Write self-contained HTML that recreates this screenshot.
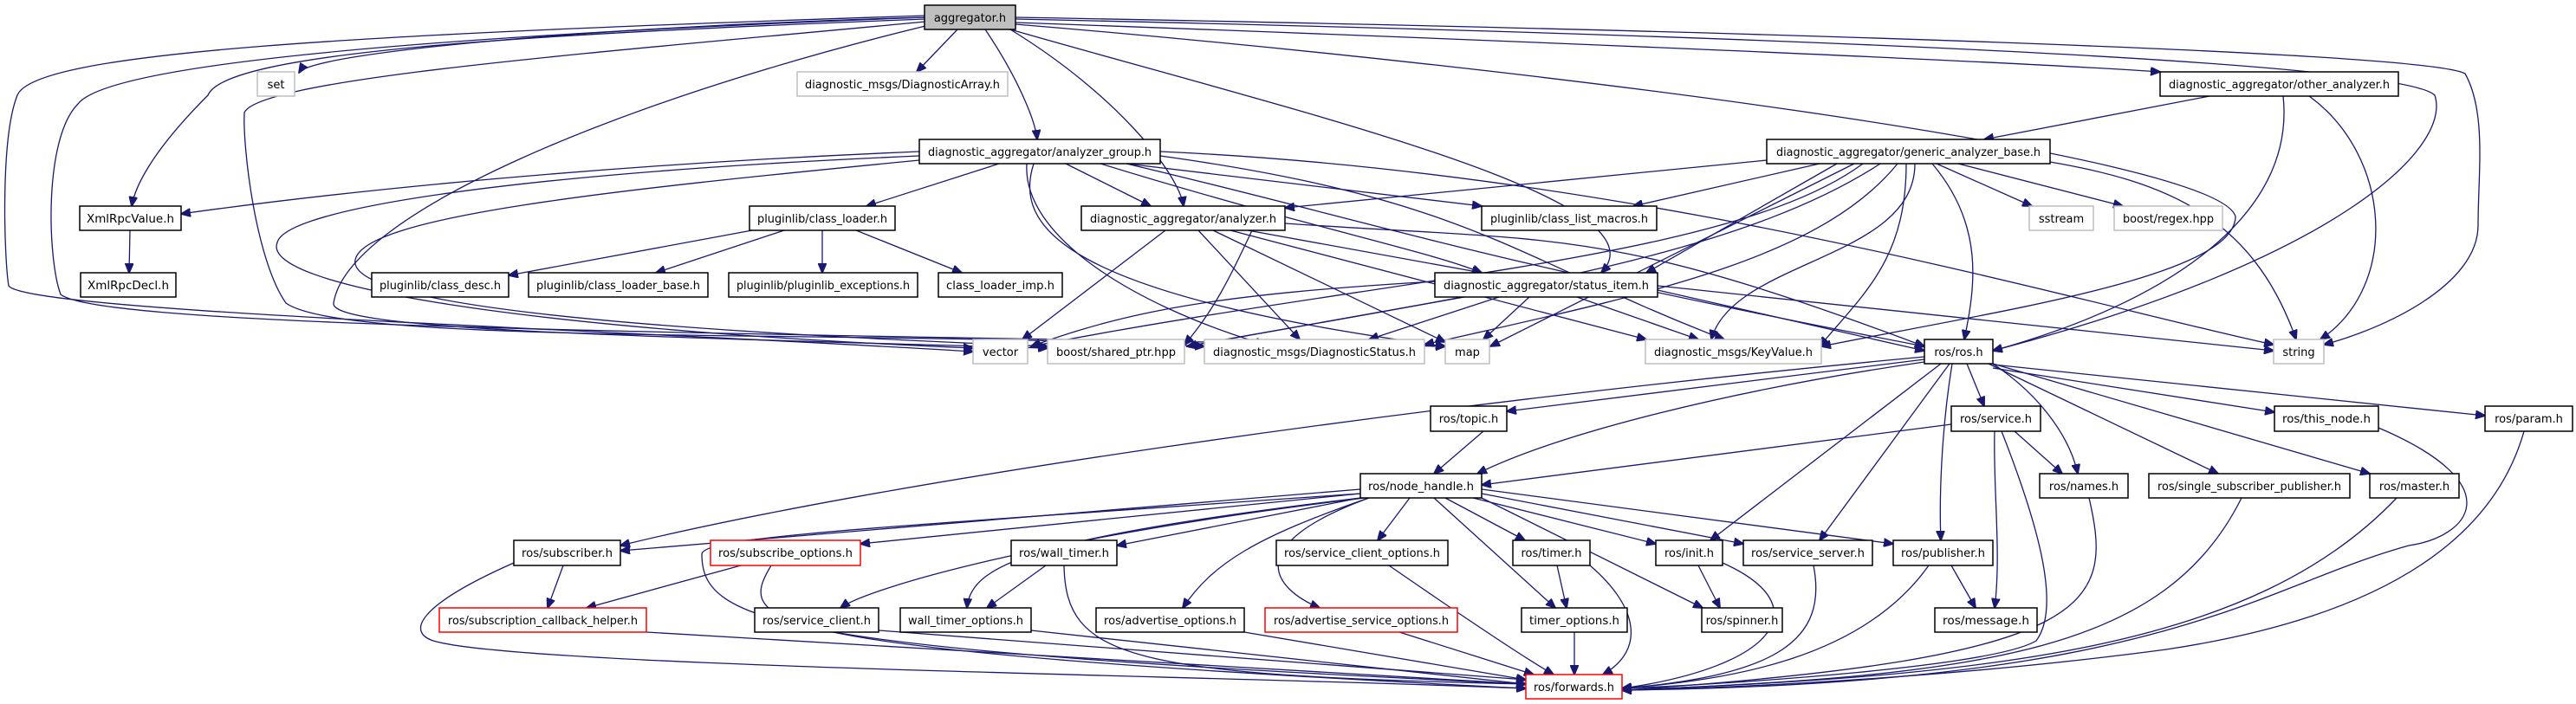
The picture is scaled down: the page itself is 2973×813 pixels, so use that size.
<!DOCTYPE html>
<html><head><meta charset="utf-8"><style>
html,body{margin:0;padding:0;background:#fff;}
svg{display:block}
text{font-family:"DejaVu Sans","Liberation Sans",sans-serif;font-size:13px;fill:#000}
.e{fill:none;stroke:#191970;stroke-width:1.3}
.n{fill:#fff;stroke:#000;stroke-width:1.5}
.g{fill:#fff;stroke:#bfbfbf;stroke-width:1.5}
.r{fill:#fff;stroke:#ff0000;stroke-width:1.5}
</style></head><body>
<svg width="2973" height="813" viewBox="0 0 2973 813" xmlns="http://www.w3.org/2000/svg">
<defs><marker id="a" markerWidth="12" markerHeight="10" refX="11" refY="5" orient="auto" markerUnits="userSpaceOnUse"><path d="M0,0 L12,5 L0,10 z" fill="#191970" stroke="#191970"/></marker></defs>
<g class="e" marker-end="url(#a)">
<path d="M1068,20 C700,30 360,60 345,84"/>
<path d="M1105,34 L1058,83"/>
<path d="M1137,34 C1175,90 1195,140 1197,161"/>
<path d="M1166,34 C1290,110 1360,200 1366,238"/>
<path d="M1068,22 C600,40 260,60 240,110 C170,180 155,220 152,238"/>
<path d="M1068,18 C400,40 40,60 20,110 C0,160 5,300 10,330 C30,360 700,380 1123,406"/>
<path d="M1068,20 C400,45 120,80 90,120 C50,160 55,300 70,340 C120,380 900,385 1668,400"/>
<path d="M1068,25 C700,60 300,90 282,130 C280,170 295,300 330,350 C400,400 1000,380 1390,400"/>
<path d="M1068,30 C700,120 400,250 385,350 C380,380 700,388 1209,402"/>
<path d="M1166,34 C1500,130 1930,230 1848,315"/>
<path d="M1172,26 C1700,45 2300,70 2493,83"/>
<path d="M1172,22 C2000,40 2770,70 2810,110 C2830,170 2700,300 2300,405"/>
<path d="M1172,20 C2000,35 2800,60 2845,85 C2870,130 2860,200 2860,260 C2860,330 2750,380 2682,398"/>
<path d="M1172,28 C1800,80 2560,180 2580,250 C2580,320 2300,360 2102,400"/>
<path d="M1061,175 C700,190 400,220 209,247"/>
<path d="M1153,189 L1000,238"/>
<path d="M1230,189 L1328,238"/>
<path d="M1300,189 L1710,238"/>
<path d="M1270,189 C1500,260 1650,290 1710,315"/>
<path d="M1061,180 C600,200 330,240 320,280 C300,330 600,380 1123,402"/>
<path d="M1061,185 C700,220 420,250 410,300 C400,350 700,380 1209,400"/>
<path d="M1193,189 C1170,260 1220,340 1668,400"/>
<path d="M1185,189 C1180,270 1300,350 1460,398"/>
<path d="M1300,189 C1600,260 1700,300 2221,400"/>
<path d="M1339,180 C1700,230 1750,300 1990,392"/>
<path d="M1339,175 C1900,200 2400,350 2624,398"/>
<path d="M1345,266 L1180,392"/>
<path d="M1445,266 C1420,320 1400,360 1367,398"/>
<path d="M1383,266 L1500,392"/>
<path d="M1400,266 L1668,395"/>
<path d="M1440,266 L1710,315"/>
<path d="M1420,266 L1900,392"/>
<path d="M1483,258 C1800,280 1850,260 2221,400"/>
<path d="M1656,325 C1400,340 1300,360 1190,400"/>
<path d="M1690,343 L1370,400"/>
<path d="M1730,343 L1580,392"/>
<path d="M1765,343 L1712,392"/>
<path d="M1820,343 L1960,392"/>
<path d="M1913,335 L2221,405"/>
<path d="M1913,330 L2624,405"/>
<path d="M2039,185 L1483,240"/>
<path d="M2100,189 L1885,238"/>
<path d="M2120,189 L1900,315"/>
<path d="M2150,189 C2000,300 1600,320 1190,400"/>
<path d="M2170,189 C2000,300 1700,340 1370,400"/>
<path d="M2190,189 C2100,300 1900,340 1644,398"/>
<path d="M2140,189 L1720,400"/>
<path d="M2200,189 C2200,300 2150,340 2100,400"/>
<path d="M2210,189 C2210,300 2000,300 1975,392"/>
<path d="M2230,189 C2290,260 2280,330 2267,392"/>
<path d="M2235,189 L2345,238"/>
<path d="M2260,189 L2450,238"/>
<path d="M2366,187 C2500,210 2600,250 2650,392"/>
<path d="M2550,111 L2290,161"/>
<path d="M2635,111 C2650,250 2500,350 2300,405"/>
<path d="M2665,111 C2760,180 2770,330 2678,392"/>
<path d="M2221,415 L1739,475"/>
<path d="M2221,418 C2000,450 1800,500 1705,547"/>
<path d="M2221,412 C1600,470 1000,560 716,630"/>
<path d="M2270,420 L2290,469"/>
<path d="M2300,425 L2625,476"/>
<path d="M2300,421 L2868,480"/>
<path d="M2300,420 C2360,460 2390,510 2398,547"/>
<path d="M2295,420 L2560,547"/>
<path d="M2300,420 L2735,547"/>
<path d="M2240,420 L1974,624"/>
<path d="M2250,420 L2100,624"/>
<path d="M2253,420 C2240,500 2238,580 2240,624"/>
<path d="M2252,490 L1710,560"/>
<path d="M2325,498 L2380,547"/>
<path d="M2302,498 C2300,560 2310,640 2302,702"/>
<path d="M2310,498 C2350,600 2380,700 2350,740 C2300,770 2000,790 1872,795"/>
<path d="M1712,498 L1655,547"/>
<path d="M1570,565 L716,636"/>
<path d="M1570,570 L993,628"/>
<path d="M1575,575 C1200,620 1000,680 970,702"/>
<path d="M1570,575 L1289,630"/>
<path d="M1570,575 C1200,620 1120,650 1116,702"/>
<path d="M1580,575 C1450,620 1400,650 1365,702"/>
<path d="M1580,575 C1430,630 1470,680 1523,702"/>
<path d="M1627,575 L1590,624"/>
<path d="M1655,575 L1795,702"/>
<path d="M1668,575 L1760,624"/>
<path d="M1700,575 L1911,628"/>
<path d="M1710,575 L1965,702"/>
<path d="M1710,570 L2012,628"/>
<path d="M1710,565 L2185,628"/>
<path d="M1570,570 C1000,610 810,620 810,640 C810,720 900,750 1761,790"/>
<path d="M650,653 L632,702"/>
<path d="M593,650 C480,700 470,730 500,740 C600,770 1400,780 1761,795"/>
<path d="M855,653 L677,702"/>
<path d="M890,653 C850,720 860,750 1761,795"/>
<path d="M746,730 L1761,790"/>
<path d="M1014,728 L1761,785"/>
<path d="M1207,653 L1139,702"/>
<path d="M1228,653 C1230,760 1300,780 1761,790"/>
<path d="M1190,728 L1761,790"/>
<path d="M1436,730 L1761,785"/>
<path d="M1615,730 L1770,779"/>
<path d="M1603,653 C1700,720 1760,760 1793,779"/>
<path d="M1797,653 L1808,702"/>
<path d="M1835,653 C1890,700 1900,750 1850,779"/>
<path d="M1817,730 L1817,779"/>
<path d="M1960,653 L1985,702"/>
<path d="M1988,650 C2100,700 2050,770 1872,795"/>
<path d="M2093,653 C2110,740 2050,780 1872,795"/>
<path d="M2252,653 L2280,702"/>
<path d="M2226,653 C2150,760 2000,785 1872,795"/>
<path d="M2411,575 C2440,700 2420,760 1872,797"/>
<path d="M2587,575 C2500,750 2300,780 1872,797"/>
<path d="M2766,575 C2600,750 2300,780 1872,797"/>
<path d="M2745,494 C2900,560 2850,620 2780,630 C2600,680 2500,790 1872,797"/>
<path d="M2913,498 C2870,650 2700,720 2500,750 C2200,790 1900,797 1872,797"/>
<path d="M150,266 L149,315"/>
<path d="M868,266 L587,318"/>
<path d="M905,266 L757,315"/>
<path d="M949,266 L949,315"/>
<path d="M988,266 L1110,315"/>
</g>
<g>
<rect x="1067" y="6" width="105" height="28" fill="#bfbfbf" stroke="#000" stroke-width="1.5"/><text x="1119.5" y="25" text-anchor="middle">aggregator.h</text>
<rect class="g" x="297" y="83" width="43" height="28"/><text x="318.5" y="102" text-anchor="middle">set</text>
<rect class="g" x="920" y="83" width="243" height="28"/><text x="1041.5" y="102" text-anchor="middle" textLength="225" lengthAdjust="spacingAndGlyphs">diagnostic_msgs/DiagnosticArray.h</text>
<rect class="n" x="2493" y="83" width="275" height="28"/><text x="2630.5" y="102" text-anchor="middle" textLength="255" lengthAdjust="spacingAndGlyphs">diagnostic_aggregator/other_analyzer.h</text>
<rect class="n" x="1061" y="161" width="278" height="28"/><text x="1200" y="180" text-anchor="middle" textLength="258" lengthAdjust="spacingAndGlyphs">diagnostic_aggregator/analyzer_group.h</text>
<rect class="n" x="2039" y="161" width="327" height="28"/><text x="2202.5" y="180" text-anchor="middle" textLength="305" lengthAdjust="spacingAndGlyphs">diagnostic_aggregator/generic_analyzer_base.h</text>
<rect class="n" x="92" y="238" width="117" height="28"/><text x="150.5" y="257" text-anchor="middle" textLength="101" lengthAdjust="spacingAndGlyphs">XmlRpcValue.h</text>
<rect class="n" x="865" y="238" width="168" height="28"/><text x="949" y="257" text-anchor="middle" textLength="150" lengthAdjust="spacingAndGlyphs">pluginlib/class_loader.h</text>
<rect class="n" x="1248" y="238" width="235" height="28"/><text x="1365.5" y="257" text-anchor="middle" textLength="215" lengthAdjust="spacingAndGlyphs">diagnostic_aggregator/analyzer.h</text>
<rect class="n" x="1710" y="238" width="202" height="28"/><text x="1811" y="257" text-anchor="middle" textLength="182" lengthAdjust="spacingAndGlyphs">pluginlib/class_list_macros.h</text>
<rect class="g" x="2342" y="238" width="74" height="28"/><text x="2379" y="257" text-anchor="middle">sstream</text>
<rect class="g" x="2440" y="238" width="125" height="28"/><text x="2502.5" y="257" text-anchor="middle" textLength="105" lengthAdjust="spacingAndGlyphs">boost/regex.hpp</text>
<rect class="n" x="93" y="315" width="110" height="28"/><text x="148" y="334" text-anchor="middle" textLength="94" lengthAdjust="spacingAndGlyphs">XmlRpcDecl.h</text>
<rect class="n" x="429" y="315" width="158" height="28"/><text x="508" y="334" text-anchor="middle" textLength="140" lengthAdjust="spacingAndGlyphs">pluginlib/class_desc.h</text>
<rect class="n" x="610" y="315" width="207" height="28"/><text x="713.5" y="334" text-anchor="middle" textLength="189" lengthAdjust="spacingAndGlyphs">pluginlib/class_loader_base.h</text>
<rect class="n" x="841" y="315" width="218" height="28"/><text x="950" y="334" text-anchor="middle" textLength="200" lengthAdjust="spacingAndGlyphs">pluginlib/pluginlib_exceptions.h</text>
<rect class="n" x="1083" y="315" width="143" height="28"/><text x="1154.5" y="334" text-anchor="middle" textLength="125" lengthAdjust="spacingAndGlyphs">class_loader_imp.h</text>
<rect class="n" x="1656" y="315" width="257" height="28"/><text x="1784.5" y="334" text-anchor="middle" textLength="237" lengthAdjust="spacingAndGlyphs">diagnostic_aggregator/status_item.h</text>
<rect class="g" x="1123" y="392" width="63" height="28"/><text x="1154.5" y="411" text-anchor="middle">vector</text>
<rect class="g" x="1209" y="392" width="158" height="28"/><text x="1288" y="411" text-anchor="middle" textLength="138" lengthAdjust="spacingAndGlyphs">boost/shared_ptr.hpp</text>
<rect class="g" x="1390" y="392" width="254" height="28"/><text x="1517" y="411" text-anchor="middle" textLength="234" lengthAdjust="spacingAndGlyphs">diagnostic_msgs/DiagnosticStatus.h</text>
<rect class="g" x="1668" y="392" width="51" height="28"/><text x="1693.5" y="411" text-anchor="middle">map</text>
<rect class="g" x="1899" y="392" width="203" height="28"/><text x="2000.5" y="411" text-anchor="middle" textLength="183" lengthAdjust="spacingAndGlyphs">diagnostic_msgs/KeyValue.h</text>
<rect class="n" x="2221" y="392" width="79" height="28"/><text x="2260.5" y="411" text-anchor="middle">ros/ros.h</text>
<rect class="g" x="2624" y="392" width="58" height="28"/><text x="2653" y="411" text-anchor="middle">string</text>
<rect class="n" x="1651" y="469" width="88" height="29"/><text x="1695" y="488" text-anchor="middle">ros/topic.h</text>
<rect class="n" x="2252" y="469" width="103" height="29"/><text x="2303.5" y="488" text-anchor="middle">ros/service.h</text>
<rect class="n" x="2625" y="469" width="120" height="29"/><text x="2685" y="488" text-anchor="middle" textLength="102" lengthAdjust="spacingAndGlyphs">ros/this_node.h</text>
<rect class="n" x="2868" y="469" width="101" height="29"/><text x="2918.5" y="488" text-anchor="middle">ros/param.h</text>
<rect class="n" x="1570" y="547" width="140" height="28"/><text x="1640" y="566" text-anchor="middle" textLength="122" lengthAdjust="spacingAndGlyphs">ros/node_handle.h</text>
<rect class="n" x="2354" y="547" width="102" height="28"/><text x="2405" y="566" text-anchor="middle">ros/names.h</text>
<rect class="n" x="2480" y="547" width="232" height="28"/><text x="2596" y="566" text-anchor="middle" textLength="212" lengthAdjust="spacingAndGlyphs">ros/single_subscriber_publisher.h</text>
<rect class="n" x="2735" y="547" width="103" height="28"/><text x="2786.5" y="566" text-anchor="middle">ros/master.h</text>
<rect class="n" x="593" y="624" width="123" height="29"/><text x="654.5" y="643" text-anchor="middle" textLength="105" lengthAdjust="spacingAndGlyphs">ros/subscriber.h</text>
<rect class="r" x="820" y="624" width="173" height="29"/><text x="906.5" y="643" text-anchor="middle" textLength="155" lengthAdjust="spacingAndGlyphs">ros/subscribe_options.h</text>
<rect class="n" x="1167" y="624" width="122" height="29"/><text x="1228" y="643" text-anchor="middle" textLength="104" lengthAdjust="spacingAndGlyphs">ros/wall_timer.h</text>
<rect class="n" x="1473" y="624" width="198" height="29"/><text x="1572" y="643" text-anchor="middle" textLength="180" lengthAdjust="spacingAndGlyphs">ros/service_client_options.h</text>
<rect class="n" x="1746" y="624" width="89" height="29"/><text x="1790.5" y="643" text-anchor="middle">ros/timer.h</text>
<rect class="n" x="1911" y="624" width="77" height="29"/><text x="1949.5" y="643" text-anchor="middle">ros/init.h</text>
<rect class="n" x="2012" y="624" width="149" height="29"/><text x="2086.5" y="643" text-anchor="middle" textLength="131" lengthAdjust="spacingAndGlyphs">ros/service_server.h</text>
<rect class="n" x="2185" y="624" width="115" height="29"/><text x="2242.5" y="643" text-anchor="middle" textLength="97" lengthAdjust="spacingAndGlyphs">ros/publisher.h</text>
<rect class="r" x="507" y="702" width="239" height="28"/><text x="626.5" y="721" text-anchor="middle" textLength="219" lengthAdjust="spacingAndGlyphs">ros/subscription_callback_helper.h</text>
<rect class="n" x="871" y="702" width="143" height="28"/><text x="942.5" y="721" text-anchor="middle" textLength="125" lengthAdjust="spacingAndGlyphs">ros/service_client.h</text>
<rect class="n" x="1039" y="702" width="151" height="28"/><text x="1114.5" y="721" text-anchor="middle" textLength="133" lengthAdjust="spacingAndGlyphs">wall_timer_options.h</text>
<rect class="n" x="1265" y="702" width="171" height="28"/><text x="1350.5" y="721" text-anchor="middle" textLength="153" lengthAdjust="spacingAndGlyphs">ros/advertise_options.h</text>
<rect class="r" x="1460" y="702" width="222" height="28"/><text x="1571" y="721" text-anchor="middle" textLength="202" lengthAdjust="spacingAndGlyphs">ros/advertise_service_options.h</text>
<rect class="n" x="1756" y="702" width="122" height="28"/><text x="1817" y="721" text-anchor="middle" textLength="104" lengthAdjust="spacingAndGlyphs">timer_options.h</text>
<rect class="n" x="1964" y="702" width="93" height="28"/><text x="2010.5" y="721" text-anchor="middle">ros/spinner.h</text>
<rect class="n" x="2233" y="702" width="118" height="28"/><text x="2292" y="721" text-anchor="middle" textLength="100" lengthAdjust="spacingAndGlyphs">ros/message.h</text>
<rect class="r" x="1761" y="779" width="111" height="28"/><text x="1816.5" y="798" text-anchor="middle" textLength="93" lengthAdjust="spacingAndGlyphs">ros/forwards.h</text>
</g>
</svg>
</body></html>
